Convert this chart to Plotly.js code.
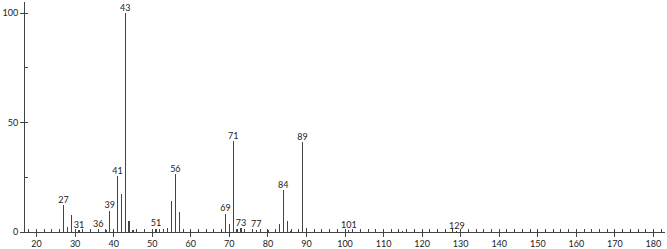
<!DOCTYPE html>
<html>
<head>
<meta charset="utf-8">
<script src="https://cdn.plot.ly/plotly-3.0.1.min.js"></script>
<style>html,body{margin:0;padding:0;background:#fff;}#chart{width:667px;height:249px;}</style>
</head>
<body>
<div id="chart"></div>
<script>
// m/z values and relative intensities
const mz = [26, 27, 28, 29, 31, 36, 38, 39, 40, 41, 42, 43, 44, 45, 51, 53, 54, 55, 56, 57,
            69, 70, 71, 72, 73, 77, 80, 82, 83, 84, 85, 86, 89, 90, 101, 115, 129];
const intensity = [1.2, 12.2, 2.5, 7.9, 1.0, 1.2, 1.0, 9.8, 1.2, 25.4, 17.5, 100, 4.9, 0.8, 1.5, 1.2, 1.7, 14.3, 26.6, 9.0,
            8.4, 3.5, 41.4, 1.5, 1.7, 1.1, 0.8, 0.8, 3.5, 19.0, 4.9, 0.5, 41.2, 1.8, 1.0, 0.4, 0.5];
// labelled peaks
const labelMz = [27, 31, 36, 39, 41, 43, 51, 56, 69, 71, 73, 77, 84, 89, 101, 129];
const labelText = ["27", "31", "36", "39", "41", "43", "51", "56", "69", "71", "73", "77", "84", "89", "101", "129"];
const xTickVals = [20, 30, 40, 50, 60, 70, 80, 90, 100, 110, 120, 130, 140, 150, 160, 170, 180];
const xTickText = ["20", "30", "40", "50", "60", "70", "80", "90", "100", "110", "120", "130", "140", "150", "160", "170", "180"];
const yTickVals = [0, 50, 100];
const yTickText = ["0", "50", "100"];

const labelY = labelMz.map(m => intensity[mz.indexOf(m)]);

const font = {family: "Lato, 'DejaVu Sans', sans-serif", size: 9, color: "#222"};

const traces = [
  {
    type: "bar", x: mz, y: intensity, width: 0.32,
    marker: {color: "#444", line: {width: 0}},
    hoverinfo: "x+y"
  },
  {
    type: "scatter", mode: "text", x: labelMz, y: labelY, text: labelText,
    textposition: "top center", textfont: font, hoverinfo: "skip", cliponaxis: false
  }
];

const layout = {
  width: 667, height: 249,
  margin: {l: 25, r: 2, t: 2, b: 17},
  paper_bgcolor: "#fff", plot_bgcolor: "#fff",
  showlegend: false,
  bargap: 0,
  font: font,
  xaxis: {
    range: [17, 183], showgrid: false, zeroline: false,
    showline: true, linecolor: "#444", linewidth: 1,
    tickmode: "array", tickvals: xTickVals, ticktext: xTickText,
    ticks: "outside", ticklen: 4, tickcolor: "#444", tickwidth: 1,
    ticklabelstandoff: -1,
    tickfont: font,
    minor: {dtick: 2, tick0: 0, ticks: "inside", ticklen: 3, tickcolor: "#444", showgrid: false}
  },
  yaxis: {
    range: [0, 105.1], showgrid: false, zeroline: false,
    showline: true, linecolor: "#444", linewidth: 1,
    tickmode: "array", tickvals: yTickVals, ticktext: yTickText,
    ticks: "outside", ticklen: 4, tickcolor: "#444", tickwidth: 1,
    tickfont: font,
    minor: {dtick: 25, tick0: 0, ticks: "inside", ticklen: 3, tickcolor: "#444", showgrid: false}
  }
};

Plotly.newPlot("chart", traces, layout, {staticPlot: true, displayModeBar: false});
</script>
</body>
</html>
